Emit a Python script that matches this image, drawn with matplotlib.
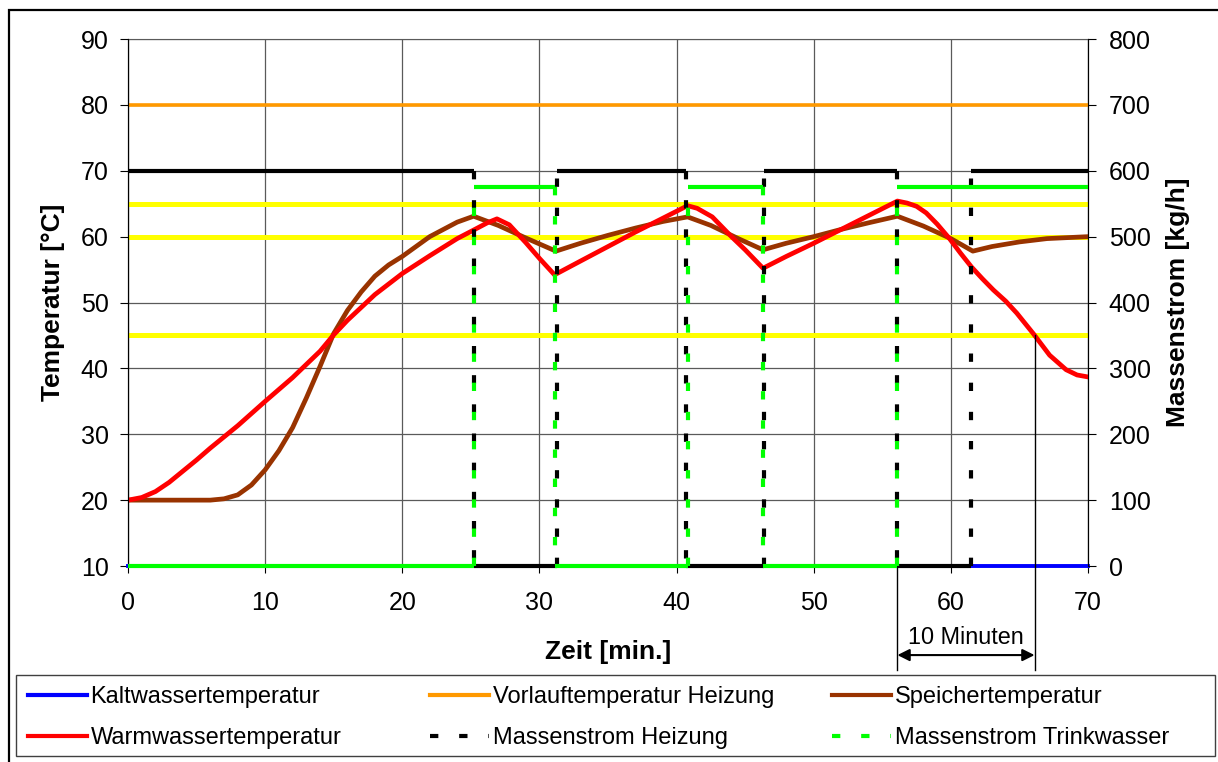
import matplotlib.pyplot as plt
from matplotlib.lines import Line2D
from matplotlib.patches import Rectangle

plt.rcParams['font.family'] = ['Liberation Sans', 'DejaVu Sans']

# ==========================
# Daten
# ==========================
# Speichertemperatur [°C]
t_speicher = [0, 3, 6, 7, 8, 9, 10, 11, 12, 13, 14, 15, 16, 17, 18, 19, 20, 22, 24, 25.2,
              27, 29, 31.2, 33, 35, 37, 39, 40.8, 42.5, 44.5, 46.3,
              48, 50, 52, 54, 56.1, 58, 60, 61.6, 63, 65, 67, 70]
speicher = [20, 20, 20, 20.2, 20.8, 22.3, 24.6, 27.5, 31, 35.5, 40.3, 45.3, 48.8, 51.6, 54, 55.7, 57, 60, 62.2, 63.1,
            61.7, 59.8, 57.8, 59.0, 60.2, 61.3, 62.3, 63.0, 61.7, 59.7, 58.0,
            59.0, 60.0, 61.1, 62.1, 63.1, 61.6, 59.7, 57.8, 58.5, 59.2, 59.7, 60.0]

# Warmwassertemperatur [°C]
t_warm = [0, 1, 2, 3, 4, 5, 6, 7, 8, 10, 12, 14, 15, 16, 18, 20, 22, 24, 25.2,
          26.2, 26.9, 27.8, 29, 30, 31.1, 33, 35, 37, 39, 40.8, 41.5, 42.6, 44, 45, 46.3,
          48, 50, 52, 54, 56.1, 56.8, 57.5, 58.2, 59, 59.9, 60.7, 61.5, 62.3, 63.1, 64, 64.8, 66, 67.2, 68.4, 69.2, 70]
warm = [20, 20.4, 21.3, 22.7, 24.4, 26.1, 27.9, 29.6, 31.3, 35, 38.6, 42.6, 45.1, 47.3, 51.2, 54.4, 57.1, 59.7, 61.0,
        62.1, 62.7, 61.8, 59.1, 56.7, 54.2, 56.3, 58.5, 60.7, 62.8, 64.7, 64.3, 63.0, 60.0, 58.0, 55.2,
        57.0, 59.0, 61.1, 63.2, 65.4, 65.1, 64.6, 63.6, 61.9, 59.7, 57.5, 55.4, 53.6, 51.9, 50.2, 48.4, 45.3, 42.0, 39.8, 39.0, 38.7]

t_bereich = [0, 70]
kaltwasser = [10, 10]
vorlauf = [80, 80]
grenzwerte = [65, 60, 45]

# Massenstroeme [kg/h]: Umschaltzeiten und Werte dazwischen
t_heizung = [0, 25.2, 31.3, 40.7, 46.4, 56.1, 61.5, 70]
m_heizung = [600, 0, 600, 0, 600, 0, 600]
t_trink = [0, 25.2, 31.1, 40.8, 46.3, 56.1, 70]
m_trink = [0, 575, 0, 575, 0, 575]

# Markierung "10 Minuten"
t_marke = 56.1
dauer_marke = 10
marke_oben = 45

DASH = (0, (2, 5))


def draw_steps(ax, t, m, color, z):
    # horizontale Abschnitte durchgezogen, Umschaltungen gestrichelt
    for i in range(len(m)):
        ax.plot([t[i], t[i + 1]], [m[i], m[i]], color=color, lw=3,
                solid_capstyle='butt', zorder=z, clip_on=False)
    for i in range(1, len(m)):
        ax.plot([t[i], t[i]], [m[i - 1], m[i]], color=color, lw=3,
                linestyle=DASH, zorder=z, clip_on=False)


fig = plt.figure(figsize=(12.18, 7.62), dpi=100)
ax = fig.add_axes([0.1051, 0.2572, 0.7882, 0.6916])
ax2 = ax.twinx()

# Temperaturen
for g in grenzwerte:
    ax.plot(t_bereich, [g, g], color='#FFFF00', lw=3.6, zorder=2)
ax.plot(t_bereich, vorlauf, color='#FF9900', lw=2.6, zorder=3)
ax.plot(t_bereich, kaltwasser, color='#0000FF', lw=2.8, zorder=3, clip_on=False)
ax.plot(t_speicher, speicher, color='#993300', lw=3.4, zorder=4)
ax.plot(t_warm, warm, color='#FF0000', lw=3.4, zorder=5)

# Massenstroeme
draw_steps(ax2, t_heizung, m_heizung, 'black', 3)
draw_steps(ax2, t_trink, m_trink, '#00FF00', 4)

ax.set_xlim(0, 70)
ax.set_ylim(10, 90)
ax2.set_ylim(0, 800)
ax.set_xticks(range(0, 71, 10))
ax.set_yticks(range(10, 91, 10))
ax2.set_yticks(range(0, 801, 100))

ax.grid(True, color='#5a5a5a', lw=0.9)
ax.set_axisbelow(True)

for a in (ax, ax2):
    a.spines['top'].set_color('#5a5a5a')
    a.spines['bottom'].set_color('#5a5a5a')
    a.spines['left'].set_color('black')
    a.spines['right'].set_color('black')
ax2.spines['bottom'].set_visible(False)
ax2.spines['top'].set_visible(False)
ax.tick_params(axis='y', labelsize=18, length=6, pad=8, direction='out')
ax.tick_params(axis='x', labelsize=18, length=5, pad=13, direction='out')
ax2.tick_params(axis='y', labelsize=18, length=6, pad=9, direction='out')

ax.set_xlabel('Zeit [min.]', fontsize=19, fontweight='bold')
ax.set_ylabel('Temperatur [°C]', fontsize=19, fontweight='bold')
ax2.set_ylabel('Massenstrom [kg/h]', fontsize=19, fontweight='bold')
ax.xaxis.set_label_coords(0.5, -0.140)
ax.yaxis.set_label_coords(-0.066, 0.5)
ax2.yaxis.set_label_coords(1.081, 0.5)

# Markierung 10 Minuten unterhalb der Achse
y_unten = 10 - 0.197 * 80
y_pfeil = 10 - 0.169 * 80
y_text = 10 - 0.135 * 80
t_ende = t_marke + dauer_marke
ax.plot([t_marke, t_marke], [10, y_unten], color='black', lw=1, clip_on=False, zorder=6)
ax.plot([t_ende, t_ende], [marke_oben, y_unten], color='black', lw=1, clip_on=False, zorder=6)
ax.annotate('', xy=(t_marke, y_pfeil), xytext=(t_ende, y_pfeil),
            arrowprops=dict(arrowstyle='<|-|>', color='black', lw=1.5,
                            mutation_scale=18, shrinkA=0, shrinkB=0),
            annotation_clip=False)
ax.text((t_marke + t_ende) / 2, y_text, f'{dauer_marke} Minuten', fontsize=16.8,
        ha='center', va='center', clip_on=False)

# Legende (drei Spalten, gemeinsamer Rahmen)
fig.add_artist(Rectangle((16 / 1218, 1 - 756 / 762), 1199 / 1218, 81 / 762,
                         transform=fig.transFigure, fill=False,
                         edgecolor='#404040', lw=1))
spalten = [
    [(Line2D([], [], color='#0000FF', lw=3), 'Kaltwassertemperatur'),
     (Line2D([], [], color='#FF0000', lw=3), 'Warmwassertemperatur')],
    [(Line2D([], [], color='#FF9900', lw=3), 'Vorlauftemperatur Heizung'),
     (Line2D([], [], color='black', lw=3, linestyle=DASH), 'Massenstrom Heizung')],
    [(Line2D([], [], color='#993300', lw=3), 'Speichertemperatur'),
     (Line2D([], [], color='#00FF00', lw=3, linestyle=DASH), 'Massenstrom Trinkwasser')],
]
x_spalten = [28, 430, 832]
for eintraege, xs in zip(spalten, x_spalten):
    leg = fig.legend([e[0] for e in eintraege], [e[1] for e in eintraege],
                     loc='upper left', bbox_to_anchor=(xs / 1218, 1 - 686 / 762),
                     frameon=False, fontsize=17, handlelength=2.5,
                     handletextpad=0.15, labelspacing=0.8, borderpad=0,
                     borderaxespad=0)

# Rahmen um die ganze Grafik
fig.add_artist(Rectangle((9 / 1218, -0.05), 1.1, 1.05 - 10 / 762,
                         transform=fig.transFigure, fill=False,
                         edgecolor='black', lw=1.6))

fig.savefig('out.png', dpi=100)
